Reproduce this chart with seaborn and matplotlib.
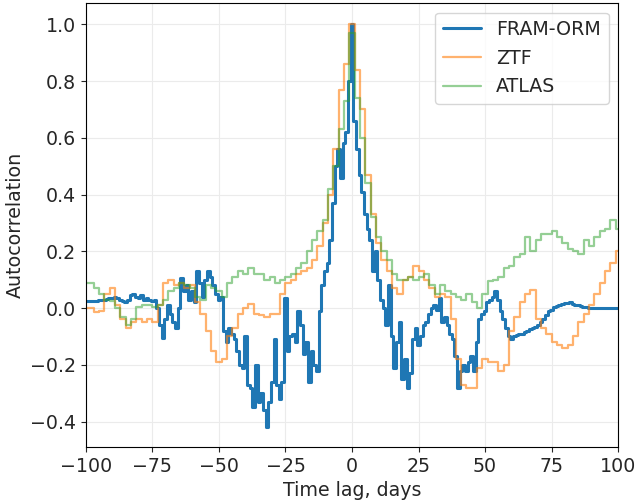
import numpy as np
import pandas as pd
import matplotlib
matplotlib.use("Agg")
import matplotlib.pyplot as plt
import seaborn as sns

# lag grids (days)
lag_fram = list(range(-100, 101))
lag_ztf = list(range(-100, 101, 2))
lag_atlas = list(range(-100, 101, 2))

fram_orm = [
    0.025, 0.025, 0.025, 0.025, 0.025, 0.028, 0.03, 0.03, 0.032, 0.035,
    0.035, 0.038, 0.035, 0.03, 0.025, 0.02, 0.03, 0.045, 0.05, 0.04,
    0.035, 0.045, 0.03, 0.035, 0.03, 0.025, 0.03, 0.0, -0.06, -0.105,
    -0.04, 0.01, -0.02, -0.05, -0.07, 0.0, 0.105, 0.06, 0.08, 0.03,
    0.06, 0.02, 0.13, 0.09, 0.04, 0.1, 0.13, 0.11, 0.08, 0.05,
    0.03, 0.04, -0.08, -0.12, -0.07, -0.09, -0.11, -0.15, -0.2, -0.21,
    -0.1, -0.27, -0.28, -0.35, -0.2, -0.33, -0.3, -0.36, -0.42, -0.33,
    -0.26, -0.11, -0.27, -0.32, -0.26, 0.035, -0.15, -0.1, -0.09, -0.12,
    -0.01, -0.06, -0.16, -0.12, -0.26, -0.15, -0.2, -0.22, -0.01, 0.08,
    0.13, 0.16, 0.24, 0.37, 0.5, 0.56, 0.46, 0.58, 0.62, 0.8,
    1.0,
    0.66, 0.56, 0.47, 0.41, 0.33, 0.28, 0.24, 0.13, 0.2, 0.1,
    0.03, 0.0, -0.06, 0.08, -0.1, -0.21, -0.12, -0.05, -0.25, -0.18,
    -0.28, -0.23, -0.11, -0.07, -0.13, -0.1, -0.06, -0.05, -0.02, 0.0,
    0.01, -0.005, 0.035, -0.05, -0.03, -0.06, -0.09, -0.11, -0.17, -0.28,
    -0.22, -0.2, -0.22, -0.19, -0.17, -0.22, -0.12, -0.04, -0.02, -0.01,
    0.02, 0.03, 0.04, 0.06, 0.03, -0.01, -0.04, -0.07, -0.1, -0.11,
    -0.1, -0.095, -0.09, -0.09, -0.085, -0.08, -0.075, -0.07, -0.065, -0.06,
    -0.05, -0.04, -0.025, -0.01, -0.005, 0.005, 0.008, 0.012, 0.015, 0.018,
    0.018, 0.02, 0.015, 0.012, 0.01, 0.008, 0.005, 0.003, 0.0, 0.0,
    0.0, 0.0, 0.0, 0.0, 0.0, 0.0, 0.0, 0.0, 0.0, 0.0,
]

ztf = [
    0.0, 0.0, -0.015, -0.01, 0.05, 0.07, 0.01, -0.04, -0.07, -0.05,
    -0.04, -0.05, -0.04, -0.05, 0.01, 0.09, 0.1, 0.08, 0.09, 0.07,
    0.08, 0.02, -0.02, -0.08, -0.15, -0.19, -0.18, -0.1, -0.07, -0.02,
    0.0, 0.015, -0.02, -0.025, -0.03, -0.02, -0.02, 0.05, 0.09, 0.1,
    0.12, 0.13, 0.14, 0.17, 0.22, 0.3, 0.4, 0.56, 0.77, 0.86,
    1.0,
    0.84, 0.7, 0.47, 0.33, 0.23, 0.17, 0.13, 0.07, 0.05, 0.1,
    0.11, 0.15, 0.13, 0.1, 0.07, 0.04, 0.05, 0.04, -0.04, -0.18,
    -0.27, -0.28, -0.28, -0.21, -0.18, -0.19, -0.19, -0.22, -0.2, -0.08,
    -0.03, 0.02, 0.05, 0.065, -0.04, -0.07, -0.09, -0.12, -0.13, -0.14,
    -0.13, -0.1, -0.05, -0.02, 0.01, 0.05, 0.09, 0.13, 0.16, 0.2,
]

atlas = [
    0.09, 0.09, 0.07, 0.05, 0.03, 0.025, 0.0, -0.03, -0.06, -0.04,
    0.005, 0.01, 0.01, 0.005, 0.01, 0.03, 0.06, 0.07, 0.09, 0.08,
    0.07, 0.04, 0.03, 0.08, 0.07, 0.06, 0.04, 0.09, 0.11, 0.13,
    0.12, 0.14, 0.12, 0.12, 0.1, 0.11, 0.09, 0.1, 0.11, 0.12,
    0.14, 0.16, 0.2, 0.24, 0.27, 0.31, 0.42, 0.5, 0.63, 0.73,
    0.97,
    0.74, 0.6, 0.44, 0.32, 0.25, 0.2, 0.17, 0.12, 0.1, 0.1,
    0.11, 0.1, 0.11, 0.12, 0.08, 0.05, 0.08, 0.06, 0.05, 0.04,
    0.03, 0.05, 0.02, 0.0, 0.05, 0.095, 0.1, 0.11, 0.14, 0.15,
    0.18, 0.19, 0.25, 0.2, 0.24, 0.26, 0.26, 0.27, 0.25, 0.23,
    0.21, 0.2, 0.19, 0.24, 0.22, 0.25, 0.27, 0.28, 0.31, 0.28,
]

FS = 13.7

sns.set_style("ticks", {
    "axes.grid": True,
    "grid.color": "#ebebeb",
    "axes.edgecolor": "black",
    "xtick.direction": "out",
    "ytick.direction": "out",
})
plt.rcParams["font.family"] = ["DejaVu Sans"]
plt.rcParams["font.size"] = FS
plt.rcParams["xtick.major.size"] = 3.5
plt.rcParams["ytick.major.size"] = 3.5
plt.rcParams["xtick.labelsize"] = FS
plt.rcParams["ytick.labelsize"] = FS

df_fram = pd.DataFrame({"lag": lag_fram, "acf": fram_orm})
df_ztf = pd.DataFrame({"lag": lag_ztf, "acf": ztf})
df_atlas = pd.DataFrame({"lag": lag_atlas, "acf": atlas})

fig, ax = plt.subplots(figsize=(6.36, 5.03), dpi=100)
fig.subplots_adjust(left=0.135, right=0.972, top=0.994, bottom=0.111)

sns.lineplot(data=df_fram, x="lag", y="acf", ax=ax, color="#1f77b4", lw=2.2,
             drawstyle="steps-mid", estimator=None, label="FRAM-ORM")
sns.lineplot(data=df_ztf, x="lag", y="acf", ax=ax, color="#ff7f0e", lw=1.6,
             alpha=0.6, drawstyle="steps-mid", estimator=None, label="ZTF")
sns.lineplot(data=df_atlas, x="lag", y="acf", ax=ax, color="#2ca02c", lw=1.6,
             alpha=0.5, drawstyle="steps-mid", estimator=None, label="ATLAS")

ax.set_xlim(-100, 100)
ax.set_ylim(-0.49, 1.075)
ax.set_yticks([-0.4, -0.2, 0.0, 0.2, 0.4, 0.6, 0.8, 1.0])
ax.set_xlabel("Time lag, days", fontsize=FS)
ax.set_ylabel("Autocorrelation", fontsize=FS)
ax.legend(loc="upper right", fontsize=FS)

fig.savefig("out.png", dpi=100)
